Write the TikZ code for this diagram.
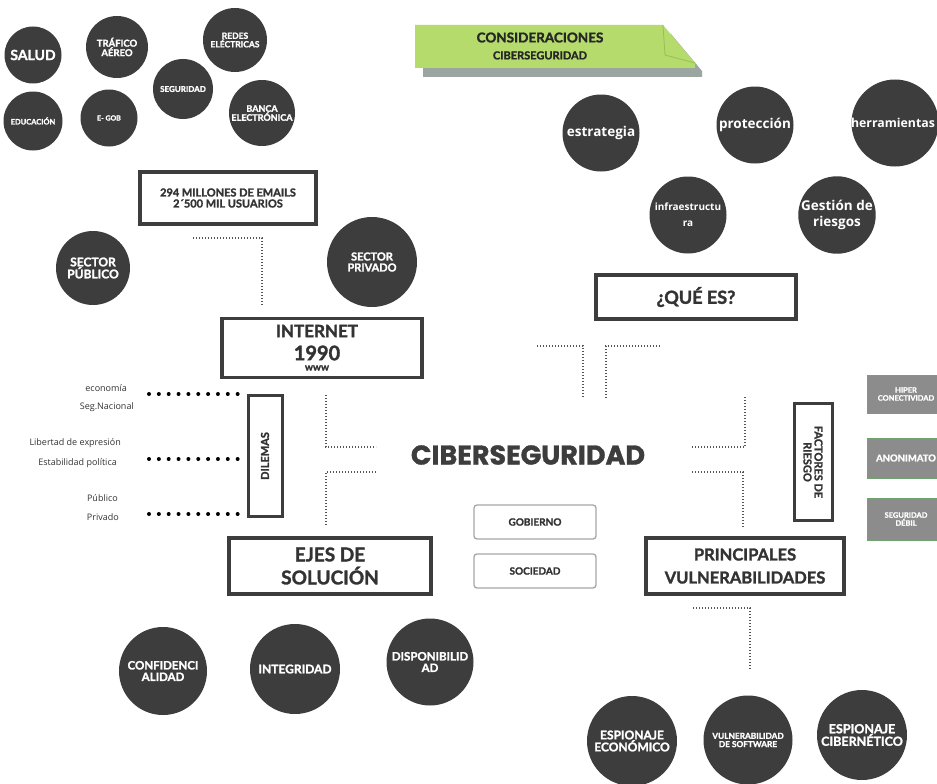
\documentclass[tikz,border=0pt]{standalone}
\usepackage{fontspec}
\setmainfont{Lato}[BoldFeatures={FakeBold=1.6}]
\newfontfamily\osans{Open Sans}
\newfontfamily\pop{Poppins}[BoldFeatures={FakeBold=1.2}]
\newcommand\fz[2]{\fontsize{#1}{#2}\selectfont}
\definecolor{dk}{HTML}{3D3D3D}
\definecolor{txt}{HTML}{333333}
\definecolor{grn}{HTML}{B5DB6C}
\definecolor{grnd}{HTML}{98BE55}
\definecolor{shd}{HTML}{9BA5A2}
\definecolor{gbox}{HTML}{8C8C8C}
\definecolor{dotc}{HTML}{555555}
\begin{document}
\begin{tikzpicture}[x=1pt,y=-1pt,
  circ/.style={circle, fill=dk, text=white, align=center, inner sep=0pt, minimum size=#1},
  ctext/.style={font=\bfseries\fz{#1}{#1}},
  rtext/.style={font=\osans\bfseries\fz{#1}{16}},
  thick box/.style={draw=dk, line width=3.5pt, fill=white, text=txt, align=center, inner sep=0pt},
  soft box/.style={draw=gray!70, line width=1.3pt, rounded corners=3pt, fill=white, text=txt, align=center, inner sep=0pt, minimum width=122pt, minimum height=34pt, font=\bfseries\fz{10}{12}},
  gray box/.style={fill=gbox, draw=gbox!80!green, line width=0.6pt, text=white, align=center, inner sep=0pt, minimum width=78pt, font=\bfseries\fz{7.5}{8}},
  label text/.style={font=\osans\fz{9}{11}, text=txt, anchor=east, inner sep=0pt},
  fine dots/.style={draw=dotc, line width=1.2pt, dash pattern=on 1pt off 2pt},
  big dots/.style={draw=black, line width=4pt, line cap=round, dash pattern=on 0pt off 9.85pt},
]
\useasboundingbox (0,0) rectangle (937,784);
\fill[white] (0,0) rectangle (937,784);

% ---- top-left circles
\node[circ=57pt, ctext=14] (salud) at (33,55) {SALUD};
\node[circ=62pt, ctext=9.5] (trafico) at (117,47) {TRÁFICO\\AÉREO};
\node[circ=64pt, ctext=8.5] (redes) at (235,40) {REDES\\ELÉCTRICAS};
\node[circ=60pt, ctext=8] (seguridad) at (183,89) {SEGURIDAD};
\node[circ=59pt, ctext=7.5] (educacion) at (33,121) {EDUCACIÓN};
\node[circ=57pt, ctext=7] (egob) at (109,118) {E- GOB};
\node[circ=66pt, ctext=9] (banca) at (262,113) {BANCA\\ELECTRÓNICA};

% ---- banner
\fill[shd] (423,34) -- (671,34) -- (702,71) -- (702,77) -- (423,77) -- cycle;
\fill[grn] (415,25) -- (663,25) -- (695,63) -- (695,68) -- (415,68) -- cycle;
\draw[grnd, line width=0.8pt] (663,25) -- (665,55) -- (695,63);
\node[align=center, text=black!85, inner sep=0pt, font=\bfseries\fz{13.5}{17}] (cons) at (540,46)
  {CONSIDERACIONES\\{\fz{11}{13}CIBERSEGURIDAD}};

% ---- right circles
\node[circ=77pt, rtext=13.5] (estrategia) at (601,133) {estrategia};
\node[circ=77pt, rtext=13.5] (proteccion) at (755,125) {protección};
\node[circ=87pt] (herramientas) at (895,123) {};
\node[rtext=12.3, text=white, inner sep=0pt] (herrtext) at (893,123) {herramientas};
\node[circ=77pt, rtext=10] (infra) at (688,215) {infraestructu\\ra};
\node[circ=77pt, rtext=13.5] (gestion) at (837,215) {Gestión de\\riesgos};

% ---- emails box and sectors
\node[thick box, minimum width=176pt, minimum height=52pt, font=\bfseries\fz{11}{11}] (emails) at (228,198)
  {294 MILLONES DE EMAILS\\2´500 MIL USUARIOS};
\node[circ=74pt, ctext=12] (publico) at (93,268) {SECTOR\\PÚBLICO};
\node[circ=90pt, ctext=11] (privado) at (372,262) {SECTOR\\PRIVADO};
\coordinate (e1) at (193,238);
\coordinate (e2) at (262,238);
\coordinate (e3) at (262,305);
\draw[fine dots] (e1) -- (e2) -- (e3);

% ---- internet box
\node[thick box, minimum width=200pt, minimum height=59pt] (internet) at (322,348) {};
\node[text=txt, font=\bfseries\fz{17}{17}, inner sep=0pt] (inet) at (317,331) {INTERNET};
\node[text=txt, font=\bfseries\fz{20}{20}, inner sep=0pt] (y1990) at (317,353) {1990};
\node[text=txt, font=\bfseries\fz{10}{10}, inner sep=0pt] (www) at (317,368) {www};

% ---- dilemas
\node[label text] (l1) at (127,388) {economía};
\node[label text] (l2) at (134,407) {Seg.Nacional};
\node[label text] (l3) at (121,443) {Libertad de expresión};
\node[label text] (l4) at (117,463) {Estabilidad política};
\node[label text] (l5) at (118,498) {Público};
\node[label text] (l6) at (119,517) {Privado};
\coordinate (d1a) at (149,394); \coordinate (d1b) at (238,394);
\coordinate (d2a) at (149,459); \coordinate (d2b) at (238,459);
\coordinate (d3a) at (149,514); \coordinate (d3b) at (238,514);
\draw[big dots] (d1a) -- (d1b);
\draw[big dots] (d2a) -- (d2b);
\draw[big dots] (d3a) -- (d3b);
\node[thick box, line width=3pt, rotate=90, minimum width=121pt, minimum height=34pt, font=\bfseries\fz{11}{12}] (dilemas) at (265,456) {DILEMAS};

% ---- center
\node[text=dk, font=\pop\bfseries\fz{27}{27}, inner sep=0pt] (ciber) at (528,455) {CIBERSEGURIDAD};
\coordinate (c1) at (326,395); \coordinate (c2) at (326,447); \coordinate (c3) at (376,447);
\draw[fine dots] (c1) -- (c2) -- (c3);
\coordinate (c4) at (376,472); \coordinate (c5) at (326,472); \coordinate (c6) at (326,525);
\draw[fine dots] (c4) -- (c5) -- (c6);
\coordinate (c7) at (692,447); \coordinate (c8) at (745,447); \coordinate (c9) at (745,397);
\draw[fine dots] (c7) -- (c8) -- (c9);
\coordinate (c10) at (692,472); \coordinate (c11) at (743,472); \coordinate (c12) at (743,527);
\draw[fine dots] (c10) -- (c11) -- (c12);
\coordinate (t1) at (537,346); \coordinate (t2) at (583,346); \coordinate (t3) at (583,398);
\draw[fine dots] (t1) -- (t2) -- (t3);
\coordinate (t4) at (660,346); \coordinate (t5) at (606,346); \coordinate (t6) at (606,398);
\draw[fine dots] (t4) -- (t5) -- (t6);

\node[thick box, minimum width=200pt, minimum height=44pt, font=\bfseries\fz{18}{18}] (quees) at (696,297) {¿QUÉ ES?};

\node[soft box] (gobierno) at (535,522) {GOBIERNO};
\node[soft box] (sociedad) at (535,571) {SOCIEDAD};

\node[thick box, line width=3pt, rotate=-90, minimum width=117pt, minimum height=38pt, font=\bfseries\fz{11}{11}] (factores) at (813,462) {FACTORES DE\\RIESGO};

\node[gray box, minimum height=38pt] (hiper) at (906,394) {HIPER\\CONECTIVIDAD};
\node[gray box, minimum height=40pt, font=\bfseries\fz{9.5}{9}] (anon) at (906,458) {ANONIMATO};
\node[gray box, minimum height=42pt] (segdeb) at (906,519) {SEGURIDAD\\DÉBIL};

% ---- ejes / vulnerabilidades
\node[thick box, minimum width=202pt, minimum height=56pt, font=\bfseries\fz{19}{23}] (ejes) at (330,566) {EJES DE\\SOLUCIÓN};
\node[thick box, minimum width=198pt, minimum height=56pt, font=\bfseries\fz{16.5}{23}] (vuln) at (745,566) {PRINCIPALES\\VULNERABILIDADES};

\coordinate (v1) at (693,608); \coordinate (v2) at (750,608); \coordinate (v3) at (750,670);
\draw[fine dots] (v1) -- (v2) -- (v3);

% ---- bottom circles
\node[circ=88pt, ctext=11.5] (confi) at (163,671) {CONFIDENCI\\ALIDAD};
\node[circ=90pt, ctext=12] (integ) at (295,669) {INTEGRIDAD};
\node[circ=87pt, ctext=11.5] (dispo) at (430,662) {DISPONIBILID\\AD};

\node[circ=90pt, ctext=12] (especo) at (632,741) {ESPIONAJE\\ECONÓMICO};
\node[circ=89pt, ctext=8.3] (vsoft) at (748,740) {VULNERABILIDAD\\DE SOFTWARE};
\node[circ=90pt, ctext=12.5] (espcib) at (862,735) {ESPIONAJE\\CIBERNÉTICO};
\end{tikzpicture}
\end{document}
